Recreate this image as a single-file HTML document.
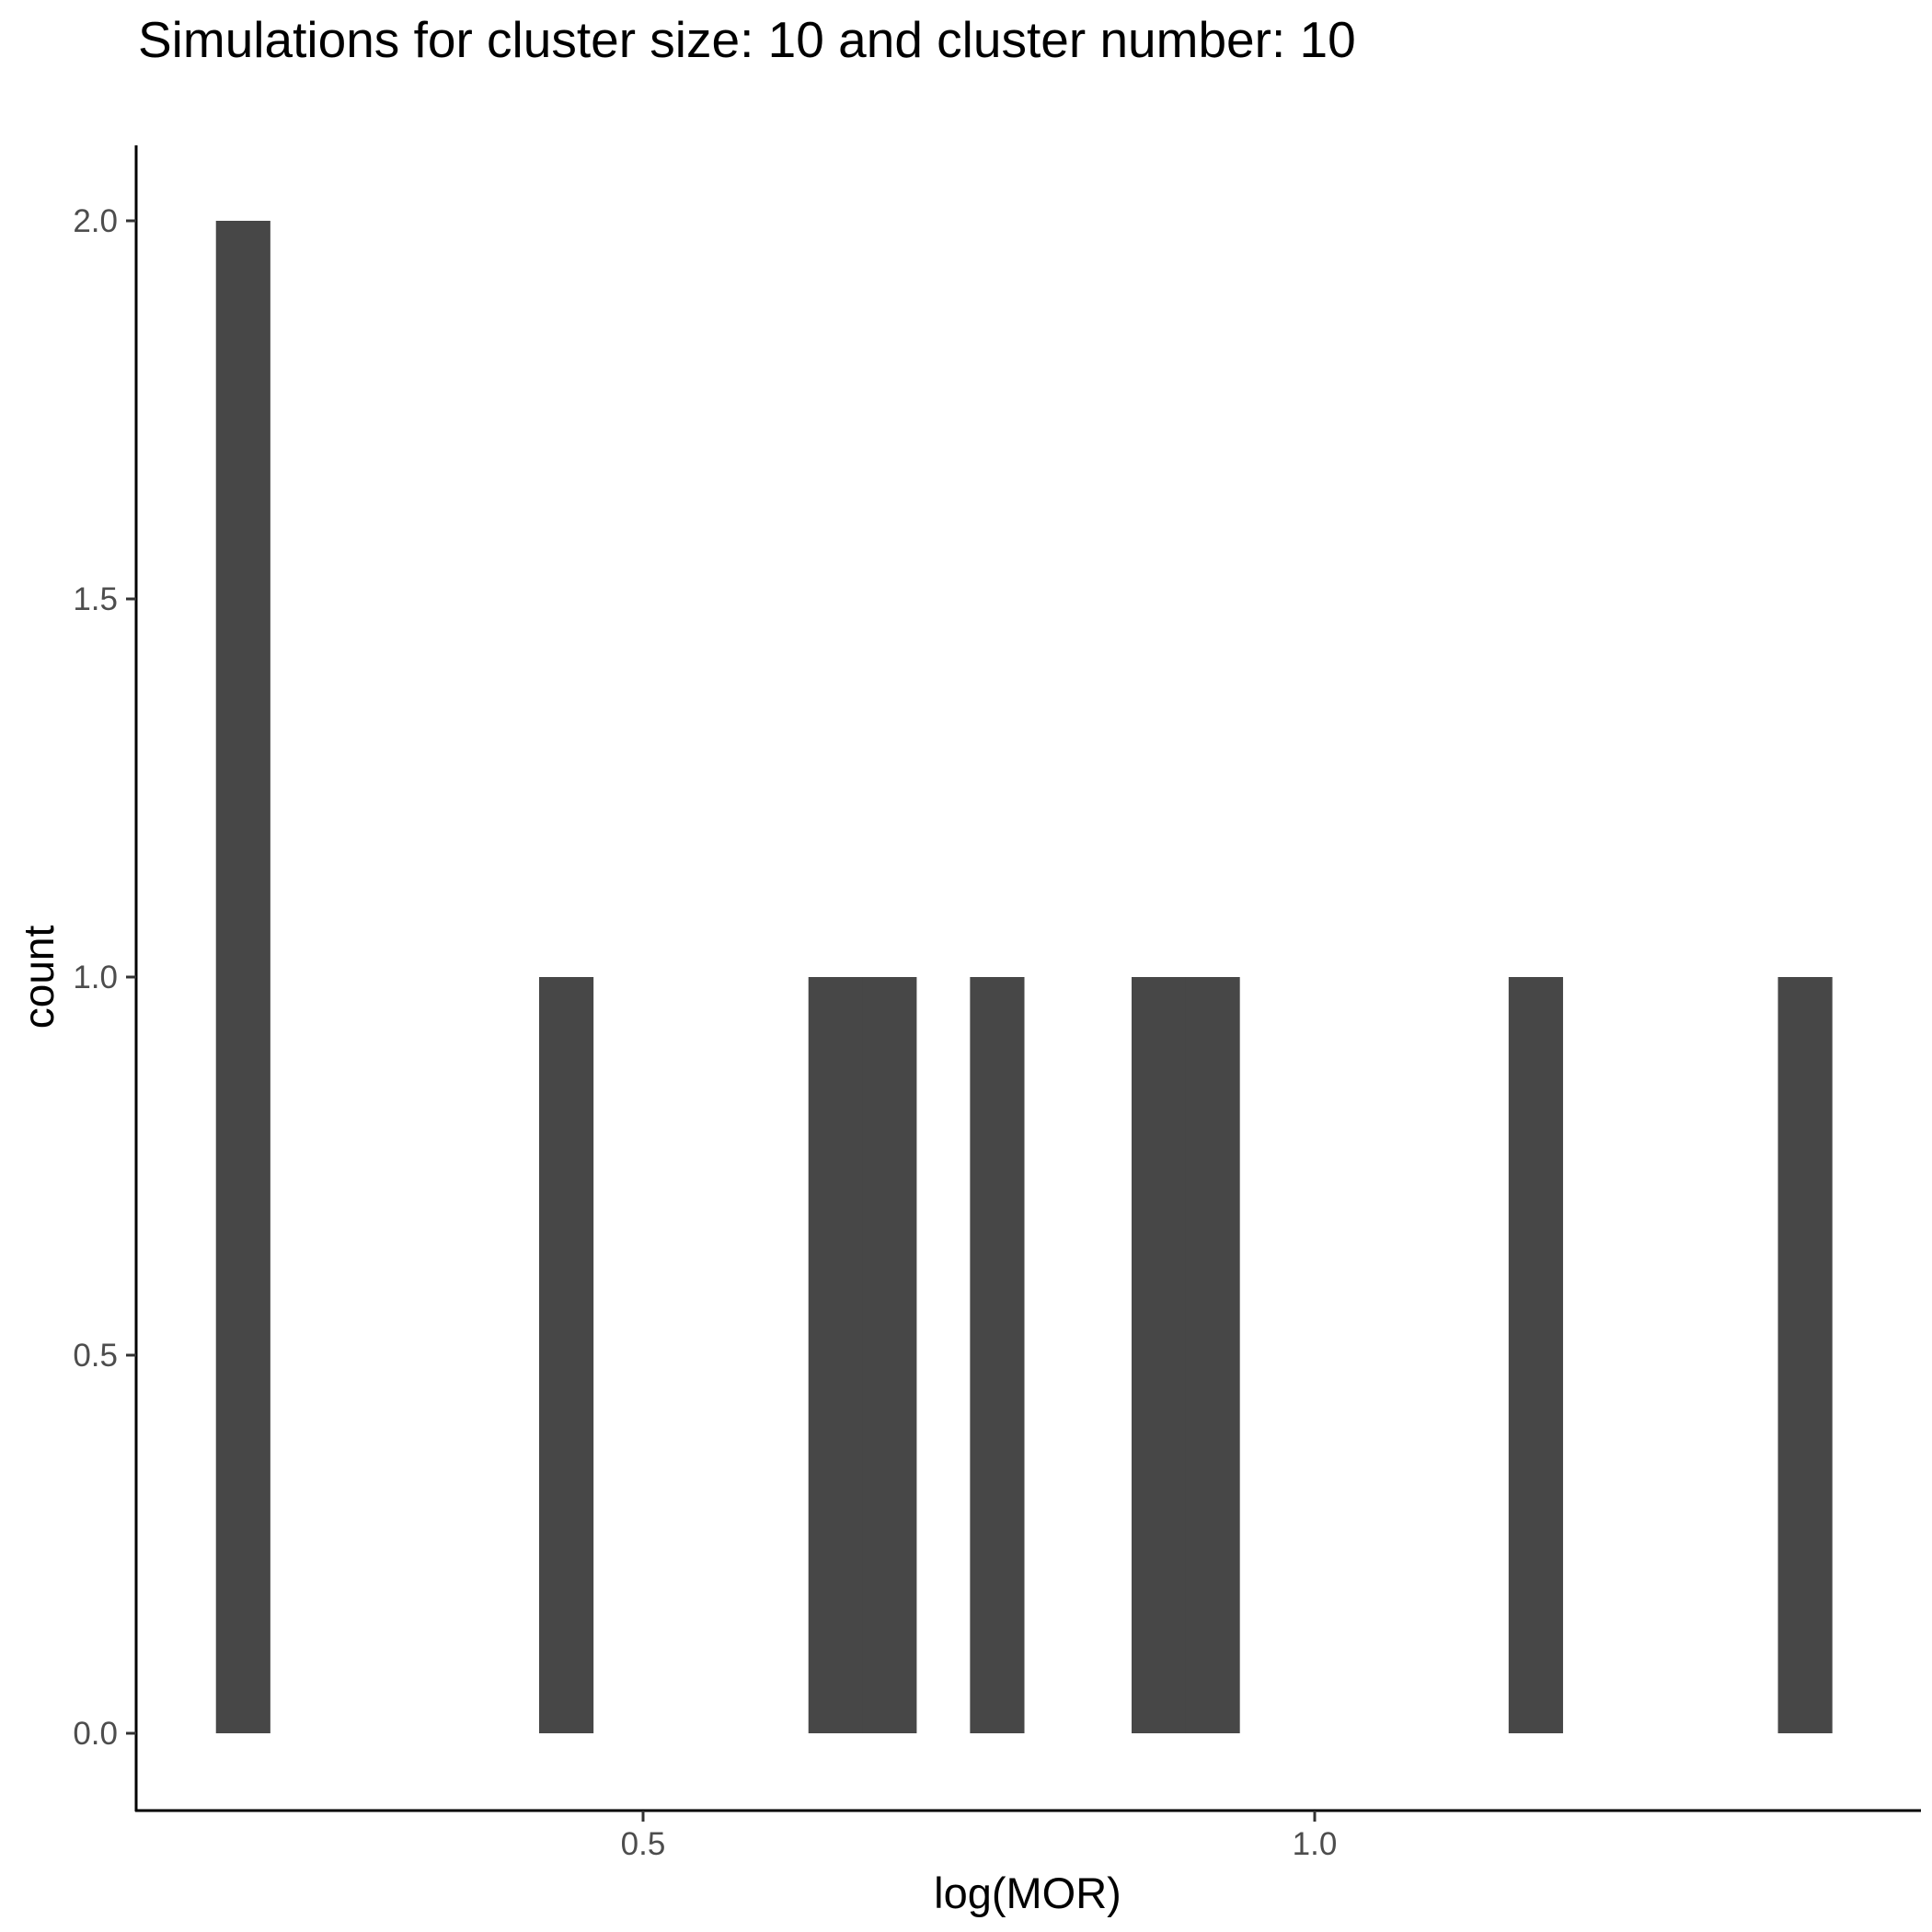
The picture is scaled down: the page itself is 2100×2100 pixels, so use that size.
<!DOCTYPE html>
<html><head><meta charset="utf-8"><style>
html,body{margin:0;padding:0;background:#fff;}
svg{display:block;font-family:"Liberation Sans",Arial,sans-serif;}
</style></head><body>
<svg id="chart" width="2100" height="2100" viewBox="0 0 2100 2100">
<text x="150" y="62" font-size="55" fill="#000">Simulations for cluster size: 10 and cluster number: 10</text>
<g id="bars"></g>
<g id="axes"></g>
<text x="1117" y="2074" font-size="47" text-anchor="middle" fill="#000">log(MOR)</text>
<text transform="translate(58,1062) rotate(-90)" font-size="46" text-anchor="middle" fill="#000">count</text>
</svg>
<script>
const binStart = 0.182;
const binWidth = 0.0401;
const counts = [2,0,0,0,0,0,1,0,0,0,0,1,1,0,1,0,0,1,1,0,0,0,0,0,1,0,0,0,0,1];
const xTicks = [0.5, 1.0];
const xTickLabels = ["0.5", "1.0"];
const yTicks = [0, 0.5, 1, 1.5, 2];
const yTickLabels = ["0.0", "0.5", "1.0", "1.5", "2.0"];

const NS = "http://www.w3.org/2000/svg";
function xs(v){ return 699 + (v - 0.5) * 1460; }
function ys(v){ return 1884 - v * 822; }
function mk(tag, attrs, parent){
  const e = document.createElementNS(NS, tag);
  for (const k in attrs) e.setAttribute(k, attrs[k]);
  parent.appendChild(e);
  return e;
}
const bars = document.getElementById('bars');
counts.forEach((c, i) => {
  if (c <= 0) return;
  const x0 = xs(binStart + i * binWidth), x1 = xs(binStart + (i + 1) * binWidth);
  const r = mk('rect', {x: x0, y: ys(c), width: x1 - x0 + 0.6, height: ys(0) - ys(c), fill: '#474747'}, bars);
  
  
});
const axes = document.getElementById('axes');
const yl = mk('line', {x1: 148, y1: 158, x2: 148, y2: 1969, stroke: '#000', 'stroke-width': 3}, axes);


const xl = mk('line', {x1: 147, y1: 1968, x2: 2088, y2: 1968, stroke: '#000', 'stroke-width': 3}, axes);


yTicks.forEach((v, i) => {
  const y = ys(v);
  const t = mk('line', {x1: 137, y1: y, x2: 148, y2: y, stroke: '#333', 'stroke-width': 3}, axes);
  
  
  const l = mk('text', {x: 128, y: y + 12, 'font-size': 35, 'text-anchor': 'end', fill: '#4d4d4d'}, axes);
  l.textContent = yTickLabels[i];
  
  
});
xTicks.forEach((v, i) => {
  const x = xs(v);
  const t = mk('line', {x1: x, y1: 1968, x2: x, y2: 1980, stroke: '#333', 'stroke-width': 3}, axes);
  
  
  const l = mk('text', {x: x, y: 2016, 'font-size': 35, 'text-anchor': 'middle', fill: '#4d4d4d'}, axes);
  l.textContent = xTickLabels[i];
  
  
});
</script>
</body></html>
